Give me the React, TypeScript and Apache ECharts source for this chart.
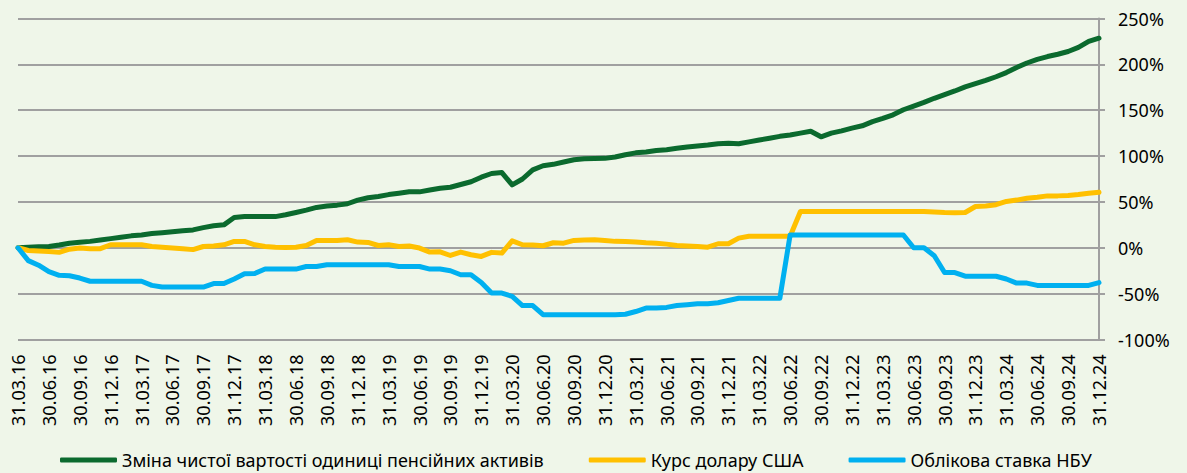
import React, { useEffect, useRef } from "react";
import * as echarts from "echarts";

// Month-end dates 31.03.16 .. 31.12.24
const monthEnds = (): string[] => {
  const out: string[] = [];
  for (let y = 2016; y <= 2024; y++) {
    for (let m = 1; m <= 12; m++) {
      if (y === 2016 && m < 3) continue;
      const d = new Date(Date.UTC(y, m, 0)).getUTCDate();
      out.push(`${String(d).padStart(2, "0")}.${String(m).padStart(2, "0")}.${String(y % 100).padStart(2, "0")}`);
    }
  }
  return out;
};
const categories = monthEnds();

const seriesNames = [
  "Зміна чистої вартості одиниці пенсійних активів",
  "Курс долару США",
  "Облікова ставка НБУ",
];

const navChange = [
  0, 0.5, 1, 1.5, 3, 5, 6, 7, 8.5, 10,
  11.5, 13, 14, 15.5, 16.5, 17.5, 18.5, 19.5, 22, 24,
  25, 33, 34, 34, 34, 34, 36, 38.5, 41, 44,
  45.5, 46.5, 48, 52, 54.5, 56, 58, 59.5, 61, 61,
  63, 65, 66, 69, 72, 77, 81, 82, 68.5, 75,
  85, 89.5, 91, 93.5, 96, 97, 97.3, 97.5, 99, 101.5,
  103.5, 104.5, 106, 107, 108.5, 110, 111, 112, 113.5, 114,
  113.5, 115.5, 117.5, 119.5, 121.5, 123, 125, 127, 121, 125,
  127.5, 130.5, 133, 137.5, 141, 145, 150.5, 154.5, 158.5, 163,
  167, 171, 175.5, 179, 182.5, 186.5, 191, 196.5, 201.5, 205.5,
  208.5, 211, 214, 218.5, 225, 228.5,
];

const usdRate = [
  0, -3, -3.5, -4, -5, -1.5, -0.3, -1, -1, 3.3,
  3.3, 3.3, 3.3, 1.4, 0.5, -0.3, -1, -2, 1.4, 2,
  3.3, 6.9, 6.9, 3.3, 1.5, 0.7, 0.3, 0.5, 2.5, 8,
  8, 8, 8.7, 6.2, 5.8, 2.5, 3.3, 1.4, 2, -0.3,
  -4.7, -4.4, -8.4, -4.7, -7.6, -9.4, -5, -5.8, 7.6, 3.3,
  3, 2.2, 5.5, 5, 8, 8.5, 8.7, 8, 7, 6.8,
  6.3, 5.5, 5, 4, 2.5, 2, 1.3, 0.7, 4.4, 4.4,
  10.5, 12.5, 12.5, 12.5, 12.5, 12.5, 39.5, 39.5, 39.5, 39.5,
  39.5, 39.5, 39.5, 39.5, 39.5, 39.5, 39.5, 39.5, 39.5, 39,
  38.5, 38.3, 38.5, 45, 45.5, 47, 50.5, 52, 54, 55,
  56.6, 56.6, 57, 58, 59.5, 60.5,
];

const nbuRate = [
  0, -14, -19, -26, -30, -30.5, -33, -36.5, -36.5, -36.5,
  -36.5, -36.5, -36.5, -41, -42.8, -42.8, -42.8, -42.8, -42.8, -39,
  -39, -34, -28.3, -28, -23.2, -23.2, -23.2, -23.2, -20.4, -20.4,
  -18.5, -18.5, -18.5, -18.5, -18.5, -18.5, -18.5, -20.4, -20.4, -20.4,
  -23.2, -23.2, -25, -29.4, -29.4, -37.8, -49.4, -49.4, -53, -63,
  -63, -73, -73, -73, -73, -73, -73, -73, -73, -72.5,
  -69.5, -65.7, -65.7, -65, -63, -62, -61, -61, -60, -57.5,
  -55, -55, -55, -55, -55, 14, 14, 14, 14, 14,
  14, 14, 14, 14, 14, 14, 14, 0, 0, -8.7,
  -27, -27, -31, -31, -31, -31, -34, -38.5, -38.5, -41,
  -41, -41, -41, -41, -41, -38,
];

const colors = ["#0B6A2E", "#FFC000", "#00B0F0"];
const FONT = "Noto Sans";

export default function App() {
  const ref = useRef<HTMLDivElement>(null);
  useEffect(() => {
    document.body.style.margin = "0";
    const chart = echarts.init(ref.current!, null, { renderer: "svg" });
    const data = [navChange, usdRate, nbuRate];
    chart.setOption({
      animation: false,
      backgroundColor: "#EFF6E9",
      textStyle: { fontFamily: FONT },
      grid: { left: 18, right: 88, top: 18.5, bottom: 133.5, containLabel: false },
      legend: {
        bottom: 3,
        left: 60,
        padding: 0,
        itemWidth: 57,
        itemHeight: 5,
        itemGap: 45,
        icon: "roundRect",
        textStyle: { fontFamily: FONT, fontSize: 18, lineHeight: 20, color: "#000" },
        data: seriesNames.map((n, i) => ({ name: n, itemStyle: { color: colors[i] } })),
      },
      xAxis: {
        type: "category",
        data: categories,
        boundaryGap: false,
        axisLine: { show: true, lineStyle: { color: "#A0A0A0", width: 2 } },
        axisTick: { show: false },
        axisLabel: {
          interval: 2,
          rotate: 90,
          margin: 15,
          fontSize: 18,
          fontFamily: FONT,
          color: "#000",
        },
        splitLine: { show: false },
      },
      yAxis: {
        type: "value",
        position: "right",
        min: -100,
        max: 250,
        interval: 50,
        axisLine: { show: true, lineStyle: { color: "#A0A0A0", width: 2 } },
        axisTick: { show: true, length: 6, lineStyle: { color: "#A0A0A0", width: 2 } },
        axisLabel: {
          formatter: (v: number) => `${v}%`,
          margin: 19,
          fontSize: 18,
          fontFamily: FONT,
          color: "#000",
        },
        splitLine: { show: true, lineStyle: { color: "#A0A0A0", width: 2 } },
      },
      series: seriesNames.map((name, i) => ({
        name,
        type: "line",
        data: data[i],
        showSymbol: false,
        symbol: "none",
        smooth: false,
        color: colors[i],
        lineStyle: { color: colors[i], width: 5, cap: "round", join: "round" },
      })),
    });
    return () => chart.dispose();
  }, []);
  return <div ref={ref} style={{ width: 1187, height: 473 }} />;
}
